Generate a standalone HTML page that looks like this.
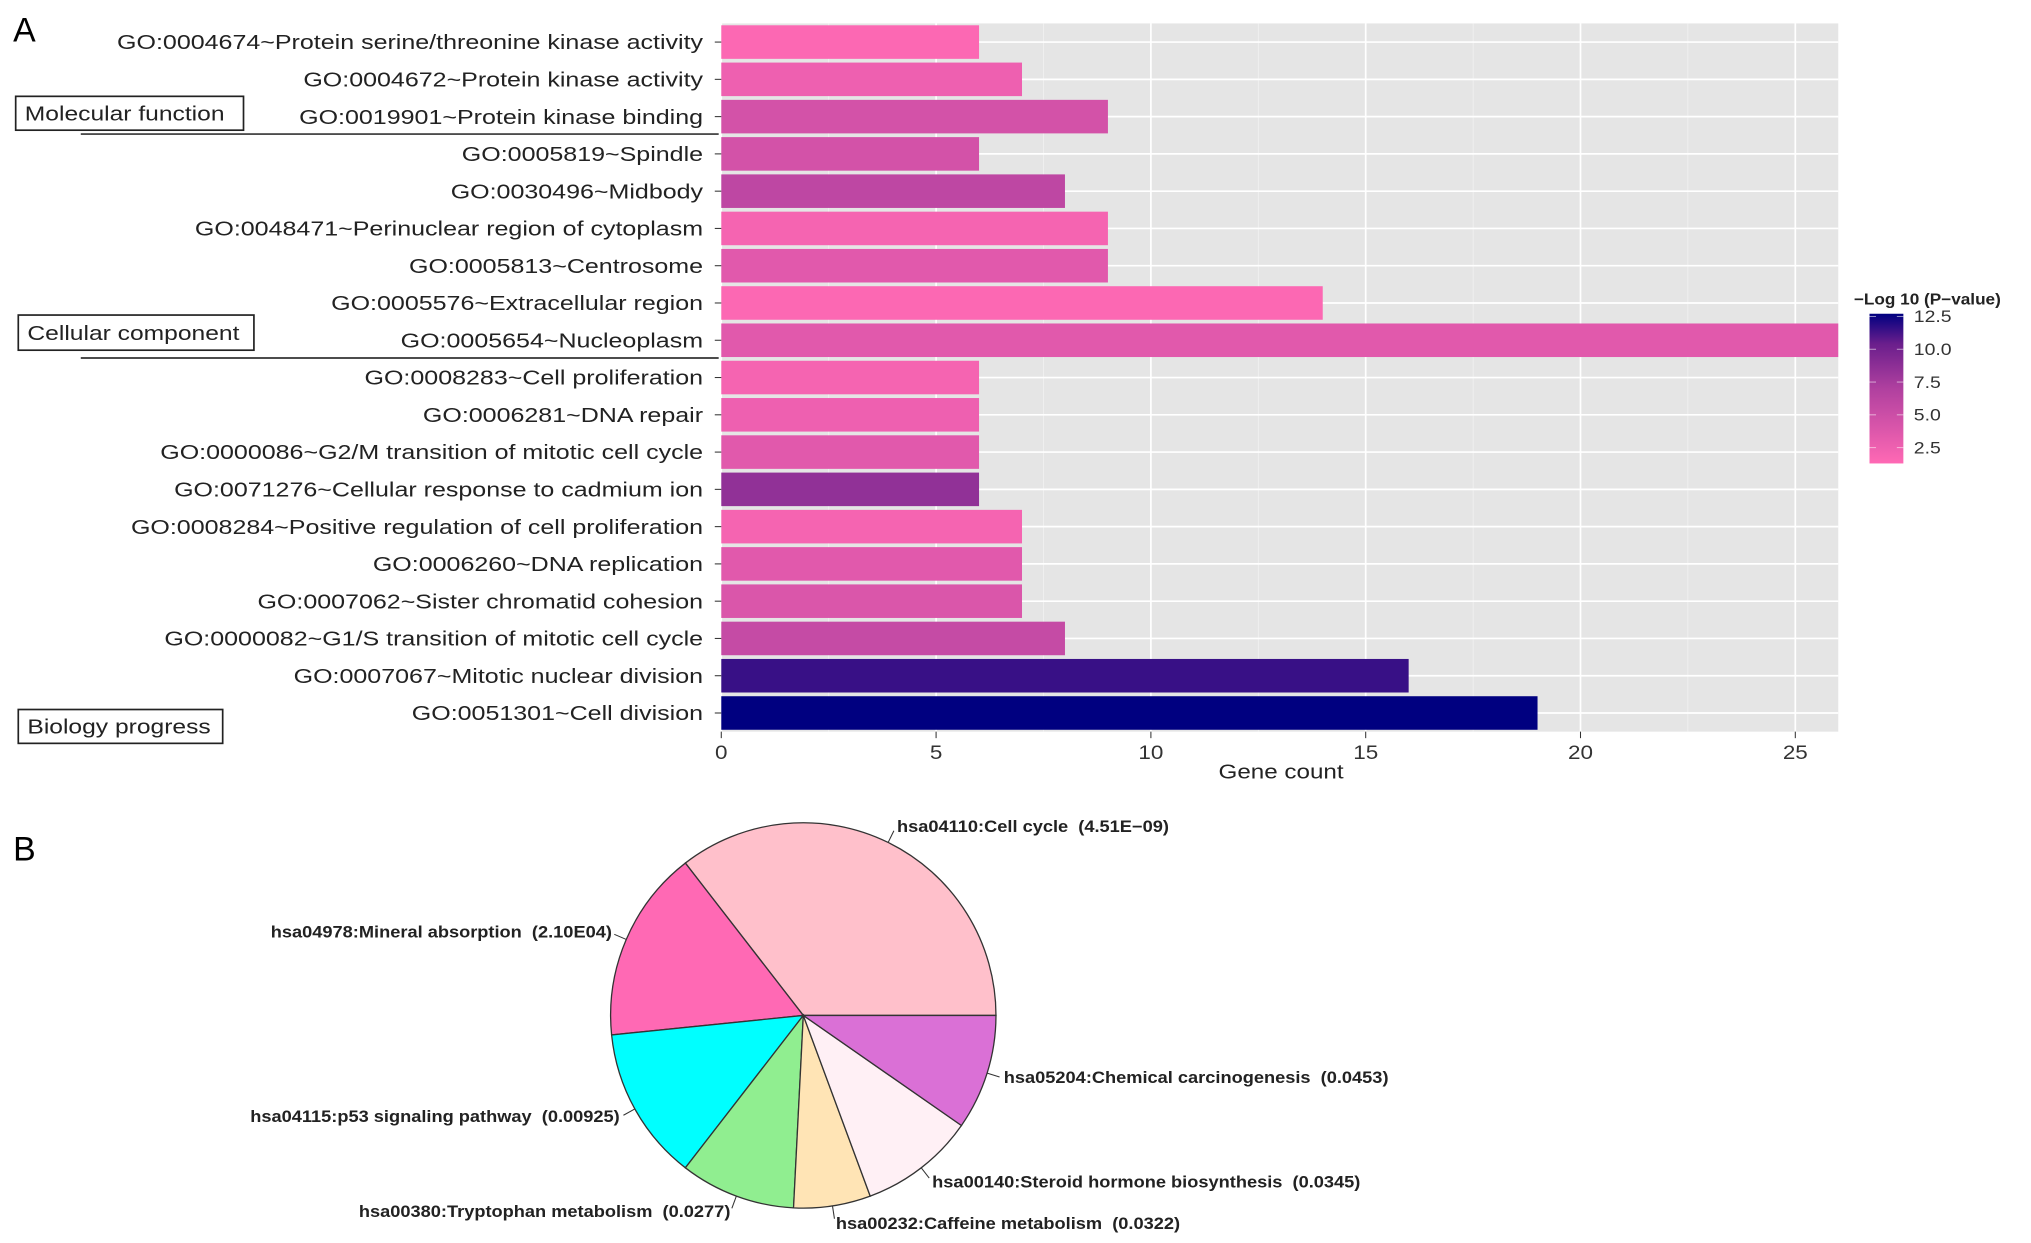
<!DOCTYPE html>
<html><head><meta charset="utf-8"><style>html,body{margin:0;padding:0;background:#fff}svg{display:block}text{font-family:"Liberation Sans",sans-serif}</style></head>
<body>
<svg id="fig" width="2031" height="1243" viewBox="0 0 1560 954.8" xmlns="http://www.w3.org/2000/svg">
<defs><linearGradient id="cbar" x1="0" y1="1" x2="0" y2="0"><stop offset="0" stop-color="#ff69b4"/><stop offset="0.5" stop-color="#b0409f"/><stop offset="0.8" stop-color="#6a1e8c"/><stop offset="1" stop-color="#000080"/></linearGradient></defs>
<text x="10" y="32" font-size="26">A</text>
<text x="10" y="661" font-size="26">B</text>
<g id="bars"></g>
<g id="pie"></g>
</svg>
<script>
const terms = ["GO:0004674~Protein serine/threonine kinase activity","GO:0004672~Protein kinase activity","GO:0019901~Protein kinase binding","GO:0005819~Spindle","GO:0030496~Midbody","GO:0048471~Perinuclear region of cytoplasm","GO:0005813~Centrosome","GO:0005576~Extracellular region","GO:0005654~Nucleoplasm","GO:0008283~Cell proliferation","GO:0006281~DNA repair","GO:0000086~G2/M transition of mitotic cell cycle","GO:0071276~Cellular response to cadmium ion","GO:0008284~Positive regulation of cell proliferation","GO:0006260~DNA replication","GO:0007062~Sister chromatid cohesion","GO:0000082~G1/S transition of mitotic cell cycle","GO:0007067~Mitotic nuclear division","GO:0051301~Cell division"];
const geneCounts = [6,7,9,6,8,9,9,14,26,6,6,6,6,7,7,7,8,16,19];
const logP = [1.5,2.5,4.5,4.5,6,2,3.5,1.5,3.5,2,2.5,3.5,8.5,2,3.5,4,5.5,11.5,12.8];
const xTicks = [0,5,10,15,20,25];
const cbarTicks = [2.5,5.0,7.5,10.0,12.5];
const pieLabels = ["hsa04110:Cell cycle  (4.51E\u221209)","hsa04978:Mineral absorption  (2.10E04)","hsa04115:p53 signaling pathway  (0.00925)","hsa00380:Tryptophan metabolism  (0.0277)","hsa00232:Caffeine metabolism  (0.0322)","hsa00140:Steroid hormone biosynthesis  (0.0345)","hsa05204:Chemical carcinogenesis  (0.0453)"];
const pieCounts = [11,5,4,3,2,3,3];

const NS="http://www.w3.org/2000/svg";
function mk(tag,attrs,parent,txt){const e=document.createElementNS(NS,tag);for(const k in attrs)e.setAttribute(k,attrs[k]);if(txt!==undefined)e.textContent=txt;parent.appendChild(e);return e;}
function stxt(x,y,s,attrs,parent,txt){attrs.x=0;attrs.y=0;attrs.transform=`translate(${x},${y}) scale(${s},1)`;return mk('text',attrs,parent,txt);}
const g=document.getElementById('bars');
const X0=554,XU=33,PT=18,PB=562,PR=1412;
const x=v=>X0+v*XU;
const rowH=(PB-PT)/terms.length;
const y=i=>PT+rowH*(i+0.5);
const cmin=1.3,cmax=12.7;
const stops=[[0,[255,105,180]],[0.5,[176,64,159]],[0.8,[106,30,140]],[1,[0,0,128]]];
function col(v){let t=Math.max(0,Math.min(1,(v-cmin)/(cmax-cmin)));
  for(let k=0;k<stops.length-1;k++){const [t0,a]=stops[k],[t1,b]=stops[k+1];if(t<=t1){const u=(t-t0)/(t1-t0);return 'rgb('+a.map((c,i)=>Math.round(c+(b[i]-c)*u)).join(',')+')';}}
  return 'rgb(0,0,128)';}
const bg=mk('rect',{x:X0,y:PT,width:PR-X0,height:PB-PT,fill:'#e5e5e5'},g);


for(let v=2.5;v<26;v+=5){mk('line',{x1:x(v),x2:x(v),y1:PT,y2:PB,stroke:'#f2f2f2','stroke-width':0.6},g);}
xTicks.forEach(v=>{mk('line',{x1:x(v),x2:x(v),y1:PT,y2:PB,stroke:'#fff','stroke-width':1.3},g);});
terms.forEach((t,i)=>{mk('line',{x1:X0,x2:PR,y1:y(i),y2:y(i),stroke:'#fff','stroke-width':1.3},g);});
terms.forEach((t,i)=>{
  const r=mk('rect',{x:X0,y:y(i)-rowH*0.45,width:x(geneCounts[i])-X0,height:rowH*0.9,fill:col(logP[i])},g);
  
  
  mk('line',{x1:549,x2:554,y1:y(i),y2:y(i),stroke:'#333','stroke-width':0.8},g);
  const l=stxt(540,y(i)+5.5,1.24,{'font-size':15.5,'text-anchor':'end',fill:'#222'},g,t);
  
  
});
xTicks.forEach(v=>{
  mk('line',{x1:x(v),x2:x(v),y1:PB,y2:PB+5,stroke:'#333','stroke-width':0.8},g);
  const t=stxt(x(v),PB+21,1.15,{'font-size':15,'text-anchor':'middle',fill:'#333'},g,String(v));
  
  
});
const xt=stxt(984,598,1.2,{'font-size':15.5,'text-anchor':'middle',fill:'#222'},g,'Gene count');


[[12,74,175,26,'Molecular function',103],[14,242,181,27,'Cellular component',275],[14,545,157,26,'Biology progress',null]].forEach(b=>{
  const bx=mk('rect',{x:b[0],y:b[1],width:b[2],height:b[3],fill:'#fff',stroke:'#222','stroke-width':1.3},g);
  
  
  stxt(b[0]+7,b[1]+b[3]/2+5.5,1.22,{'font-size':15.5,fill:'#222'},g,b[4]);
  if(b[5])mk('line',{x1:62,x2:552,y1:b[5],y2:b[5],stroke:'#333','stroke-width':1.3},g);
});
const CT=241,CB=356,CX=1436,CW=26;
const cy=v=>CB-(v-cmin)/(cmax-cmin)*(CB-CT);
const ctl=stxt(1424,234,1.1,{'font-size':12,'font-weight':'bold',fill:'#222'},g,'\u2212Log 10 (P\u2212value)');


const cr=mk('rect',{x:CX,y:CT,width:CW,height:CB-CT,fill:'url(#cbar)'},g);


cbarTicks.forEach(v=>{
  mk('line',{x1:CX,x2:CX+5,y1:cy(v),y2:cy(v),stroke:'#fff','stroke-width':0.6,opacity:0.7},g);
  mk('line',{x1:CX+CW-5,x2:CX+CW,y1:cy(v),y2:cy(v),stroke:'#fff','stroke-width':0.6,opacity:0.7},g);
  const t=stxt(1470,cy(v)+4.5,1.15,{'font-size':13,fill:'#333'},g,v.toFixed(1));
  
  
});
const p=document.getElementById('pie');
const PCX=617,PCY=780,PR2=148;
const pieColors=['#ffc0cb','#ff69b4','#00ffff','#90ee90','#ffe4b5','#fff0f5','#da70d6'];
const total=pieCounts.reduce((a,b)=>a+b,0);
const labelPos=[[689,639,'start'],[470,720,'end'],[476,862,'end'],[561,935,'end'],[642,944,'start'],[716,912,'start'],[771,832,'start']];
let a0=0;
pieCounts.forEach((c,i)=>{
  const a1=a0+c/total*2*Math.PI;
  const px=a=>PCX+PR2*Math.cos(a), py=a=>PCY-PR2*Math.sin(a);
  const large=(a1-a0)>Math.PI?1:0;
  const s=mk('path',{d:`M${PCX},${PCY} L${px(a0)},${py(a0)} A${PR2},${PR2} 0 ${large} 0 ${px(a1)},${py(a1)} Z`,fill:pieColors[i],stroke:'#333','stroke-width':1},p);
  
  
  const am=(a0+a1)/2;
  const lp=labelPos[i];
  const ex=PCX+(PR2+10)*Math.cos(am), ey=PCY-(PR2+10)*Math.sin(am);
  mk('line',{x1:px(am),y1:py(am),x2:ex,y2:ey,stroke:'#333','stroke-width':0.8},p);
  const t=stxt(lp[0],lp[1],1.12,{'font-size':12.5,'font-weight':'bold','text-anchor':lp[2],fill:'#222','xml:space':'preserve'},p,pieLabels[i]);
  t.setAttribute('style','white-space:pre');
  
  
  a0=a1;
});
</script>
</body></html>
